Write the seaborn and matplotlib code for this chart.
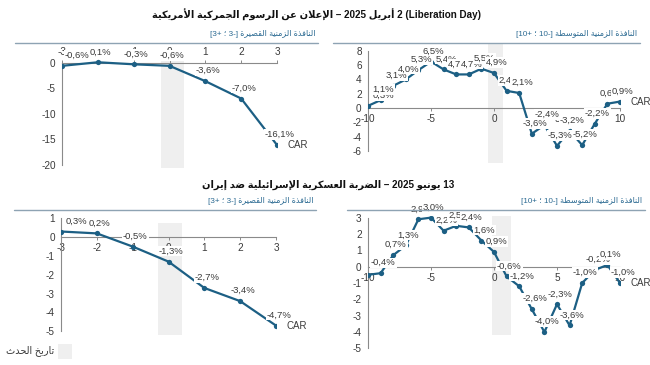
import matplotlib
matplotlib.use("Agg")
import matplotlib.pyplot as plt
import seaborn as sns
import pandas as pd

# ---------------- data ----------------
days_short = [-3, -2, -1, 0, 1, 2, 3]
days_medium = list(range(-10, 11))

car_tariff_short = [-0.6, 0.1, -0.3, -0.6, -3.6, -7.0, -16.1]
car_tariff_medium = [0.3, 1.1, 3.1, 4.0, 5.3, 6.5, 5.4, 4.7, 4.7, 5.5, 4.9,
                     2.4, 2.1, -3.6, -2.4, -5.3, -3.2, -5.2, -2.2, 0.6, 0.9]
car_iran_short = [0.3, 0.2, -0.5, -1.3, -2.7, -3.4, -4.7]
car_iran_medium = [-0.5, -0.4, 0.7, 1.3, 2.9, 3.0, 2.2, 2.5, 2.4, 1.6, 0.9,
                   -0.6, -1.2, -2.6, -4.0, -2.3, -3.6, -1.0, -0.2, 0.1, -1.0]

yticks_tariff_short = [0, -5, -10, -15, -20]
yticks_tariff_medium = [8, 6, 4, 2, 0, -2, -4, -6]
yticks_iran_short = [1, 0, -1, -2, -3, -4, -5]
yticks_iran_medium = [3, 2, 1, 0, -1, -2, -3, -4, -5]
xticks_short = [-3, -2, -1, 0, 1, 2, 3]
xticks_medium = [-10, -5, 0, 5, 10]

# ---------------- Arabic shaping (manual, matplotlib has no CTL) ----------------
TABLE = {
    'ء': (0xFE80, 1), 'آ': (0xFE81, 2), 'أ': (0xFE83, 2), 'ؤ': (0xFE85, 2),
    'إ': (0xFE87, 2), 'ئ': (0xFE89, 4), 'ا': (0xFE8D, 2), 'ب': (0xFE8F, 4),
    'ة': (0xFE93, 2), 'ت': (0xFE95, 4), 'ث': (0xFE99, 4), 'ج': (0xFE9D, 4),
    'ح': (0xFEA1, 4), 'خ': (0xFEA5, 4), 'د': (0xFEA9, 2), 'ذ': (0xFEAB, 2),
    'ر': (0xFEAD, 2), 'ز': (0xFEAF, 2), 'س': (0xFEB1, 4), 'ش': (0xFEB5, 4),
    'ص': (0xFEB9, 4), 'ض': (0xFEBD, 4), 'ط': (0xFEC1, 4), 'ظ': (0xFEC5, 4),
    'ع': (0xFEC9, 4), 'غ': (0xFECD, 4), 'ف': (0xFED1, 4), 'ق': (0xFED5, 4),
    'ك': (0xFED9, 4), 'ل': (0xFEDD, 4), 'م': (0xFEE1, 4), 'ن': (0xFEE5, 4),
    'ه': (0xFEE9, 4), 'و': (0xFEED, 2), 'ى': (0xFEEF, 2), 'ي': (0xFEF1, 4),
}
LAMALEF = {'آ': 0xFEF5, 'أ': 0xFEF7, 'إ': 0xFEF9, 'ا': 0xFEFB}


def shape(word):
    out = []
    i, n = 0, len(word)
    while i < n:
        c = word[i]
        if c not in TABLE:
            out.append(c)
            i += 1
            continue
        prev = word[i - 1] if i > 0 else ''
        pj = prev in TABLE and TABLE[prev][1] == 4
        if c == 'ل' and i + 1 < n and word[i + 1] in LAMALEF:
            base = LAMALEF[word[i + 1]]
            out.append(chr(base + 1 if pj else base))
            i += 2
            continue
        base, k = TABLE[c]
        nxt = word[i + 1] if i + 1 < n else ''
        nj = k == 4 and nxt in TABLE
        if k == 1:
            f = base
        elif k == 2:
            f = base + 1 if pj else base
        else:
            if pj and nj:
                f = base + 3
            elif pj:
                f = base + 1
            elif nj:
                f = base + 2
            else:
                f = base
        out.append(chr(f))
        i += 1
    return ''.join(out)


def ar(phrase):
    """Shape an Arabic phrase and put it in visual (right-to-left) order."""
    return shape(phrase)[::-1]


title_1 = ar("الإعلان عن الرسوم الجمركية الأمريكية") + " – 2025 " + ar("أبريل") + " 2 (Liberation Day)"
title_2 = ar("الضربة العسكرية الإسرائيلية ضد إيران") + " – 2025 " + ar("يونيو") + " 13"
sub_short = "[3+ ؛ 3-] " + ar("النافذة الزمنية القصيرة")
sub_medium = "[10+ ؛ 10-] " + ar("النافذة الزمنية المتوسطة")
legend_label = ar("تاريخ الحدث")
car_label = "CAR"

# ---------------- style ----------------
sns.set_style("white")
FAM = ['Liberation Sans', 'DejaVu Sans']
plt.rcParams['font.family'] = FAM
plt.rcParams['axes.unicode_minus'] = False
LINE = '#1c5f84'
TXT = '#3a3a3a'
AXC = '#8a8a8a'
SUBC = '#2b6a92'
RULE = '#8ea3b3'
SHADE = '#efefef'

W, H = 650, 365
fig = plt.figure(figsize=(6.5, 3.65), dpi=100)


def px_axes(l, t, r, b):
    return fig.add_axes([l / W, 1 - b / H, (r - l) / W, (b - t) / H])


def fmt(v):
    return f"{v:.1f}".replace('.', ',') + '%'


def panel(ax, days, vals, xticks, yticks, ylim, xlim, shade_x, shade_y,
          top_axis, skip=()):
    ax.set_facecolor('white')
    ax.axvspan(shade_x[0], shade_x[1], ymin=shade_y[0], ymax=shade_y[1],
               color=SHADE, lw=0, zorder=0)
    df = pd.DataFrame({'day': days, 'car': vals})
    sns.lineplot(data=df, x='day', y='car', ax=ax, color=LINE, lw=1.6,
                 marker='o', markersize=3.8, markeredgewidth=0, zorder=3)
    for i, (d, v) in enumerate(zip(days, vals)):
        if i in skip:
            continue
        dx = 11 if i == 0 else 2
        ax.annotate(fmt(v), (d, v), xytext=(dx, 7.5), textcoords='offset points',
                    ha='center', va='center', fontsize=6.8, color=TXT, zorder=5,
                    bbox=dict(boxstyle='square,pad=0.08', fc='white', ec='none'),
                    annotation_clip=False, family=FAM)
    ax.annotate(car_label, (days[-1], vals[-1]), xytext=(7.5, 0),
                textcoords='offset points', ha='left', va='center',
                fontsize=7, color=TXT, annotation_clip=False, family=FAM)
    ax.set_xlim(*xlim)
    ax.set_ylim(*ylim)
    ax.set_xticks(xticks)
    ax.set_yticks(yticks)
    ax.set_xlabel('')
    ax.set_ylabel('')
    ax.spines['right'].set_visible(False)
    ax.spines['left'].set_color(AXC)
    ax.spines['left'].set_linewidth(0.8)
    ax.spines['left'].set_bounds(min(yticks), max(yticks))
    if top_axis:
        ax.spines['bottom'].set_visible(False)
        ax.spines['top'].set_position(('data', 0))
        ax.spines['top'].set_color(AXC)
        ax.spines['top'].set_linewidth(0.8)
        ax.xaxis.set_ticks_position('top')
        ax.xaxis.set_label_position('top')
    else:
        ax.spines['top'].set_visible(False)
        ax.spines['bottom'].set_position(('data', 0))
        ax.spines['bottom'].set_color(AXC)
        ax.spines['bottom'].set_linewidth(0.8)
        ax.xaxis.set_ticks_position('bottom')
    ax.tick_params(axis='both', labelsize=7.2, colors=AXC, labelcolor=TXT,
                   length=2.5, width=0.7, pad=2)
    for lab in ax.get_xticklabels() + ax.get_yticklabels():
        lab.set_zorder(4)


ax1 = px_axes(62, 50, 277, 168)
panel(ax1, days_short, car_tariff_short, xticks_short, yticks_tariff_short,
      (-20.6, 2.5), (-3, 3), (-0.25, 0.4), (0, 1), top_axis=True)

ax2 = px_axes(368, 43, 620, 163)
panel(ax2, days_medium, car_tariff_medium, xticks_medium, yticks_tariff_medium,
      (-7.7, 9.1), (-10, 10), (-0.45, 0.75), (0, 1), top_axis=False)

ax3 = px_axes(61, 217.4, 276, 335)
panel(ax3, days_short, car_iran_short, xticks_short, yticks_iran_short,
      (-5.2, 1.05), (-3, 3), (-0.3, 0.37), (0, 0.952), top_axis=False)

ax4 = px_axes(368, 216, 620, 350)
panel(ax4, days_medium, car_iran_medium, xticks_medium, yticks_iran_medium,
      (-5.1, 3.1), (-10, 10), (-0.13, 1.38), (0.11, 1.0), top_axis=False,
      skip=(0,))

# ---------------- titles, subtitles, rules ----------------
fig.text(316 / W, 1 - 15 / H, title_1, ha='center', va='center', fontsize=7.1,
         fontweight='bold', color='#111111', family=FAM)
fig.text(328 / W, 1 - 185 / H, title_2, ha='center', va='center', fontsize=7.1,
         fontweight='bold', color='#111111', family=FAM)

for (x0, x1, y, txt) in [(15, 318, 43, sub_short), (333, 640, 43, sub_medium),
                         (14, 316, 210, sub_short), (347, 645, 210, sub_medium)]:
    fig.add_artist(plt.Line2D([x0 / W, x1 / W], [1 - y / H, 1 - y / H],
                              transform=fig.transFigure, color=RULE, lw=1.0))
    fig.text((x1 - 3) / W, 1 - (y - 9) / H, txt, ha='right', va='center',
             fontsize=5.8, color=SUBC, family=FAM)

# legend
fig.add_artist(plt.Rectangle((58 / W, 1 - 359 / H), 14 / W, 15 / H,
                             transform=fig.transFigure, color=SHADE, lw=0))
fig.text(54 / W, 1 - 351 / H, legend_label, ha='right', va='center',
         fontsize=7, color=TXT, family=FAM)

fig.savefig('out.png', dpi=100, facecolor='white')
